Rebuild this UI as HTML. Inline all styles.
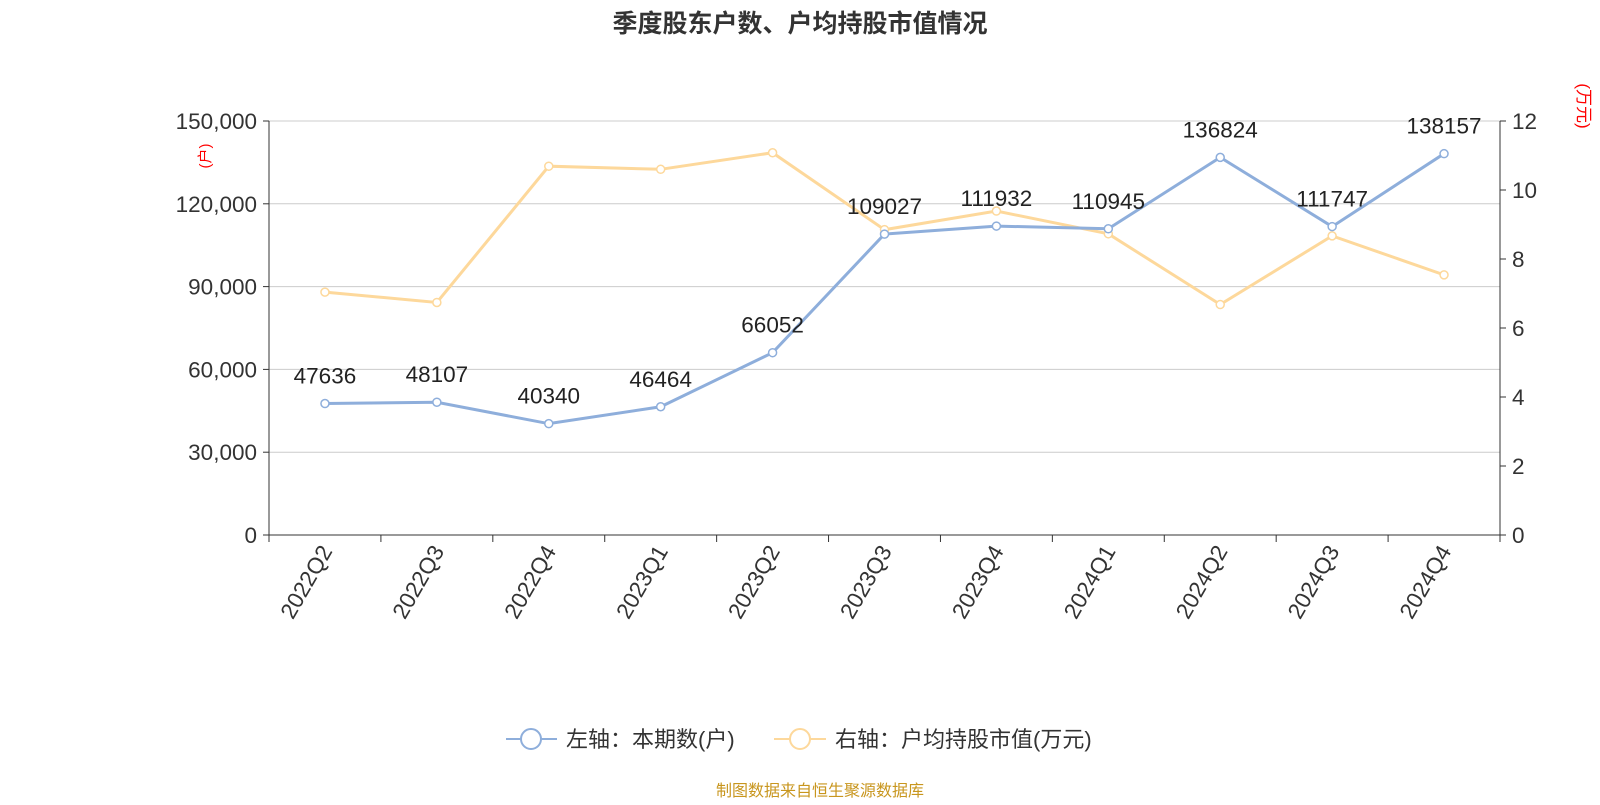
<!DOCTYPE html>
<html><head><meta charset="utf-8"><style>
body{margin:0;background:#fff;}
svg text{font-family:"Liberation Sans","Noto Sans CJK SC",sans-serif;}
</style></head><body>
<svg id="chart" width="1600" height="800" xmlns="http://www.w3.org/2000/svg">
<text x="800" y="32" text-anchor="middle" font-size="25" font-weight="bold" fill="#333">季度股东户数、户均持股市值情况</text>
<g id="grid"></g><g id="axes"></g><g id="series"></g>
<text transform="translate(210,156) rotate(-90)" text-anchor="middle" font-size="15" fill="red">(户)</text>
<text transform="translate(1578,106) rotate(90)" text-anchor="middle" font-size="17" fill="red">(万元)</text>
<g>
<line x1="506" y1="739" x2="557" y2="739" stroke="#8eaedb" stroke-width="2"/><circle cx="531" cy="739" r="10" fill="#fff" stroke="#8eaedb" stroke-width="2"/>
<text x="566" y="747" font-size="22" fill="#333">左轴：本期数(户)</text></g>
<g>
<line x1="774" y1="739" x2="826" y2="739" stroke="#fdd89b" stroke-width="2"/><circle cx="800" cy="739" r="10" fill="#fff" stroke="#fdd89b" stroke-width="2"/>
<text x="835" y="747" font-size="22" fill="#333">右轴：户均持股市值(万元)</text></g>
<text x="820" y="796" text-anchor="middle" font-size="16" fill="#c8961e">制图数据来自恒生聚源数据库</text>
</svg>
<script>
const categories=["2022Q2","2022Q3","2022Q4","2023Q1","2023Q2","2023Q3","2023Q4","2024Q1","2024Q2","2024Q3","2024Q4"];
const holders=[47636,48107,40340,46464,66052,109027,111932,110945,136824,111747,138157];
const avgValue=[7.04,6.74,10.69,10.60,11.08,8.85,9.39,8.73,6.68,8.67,7.54];
const leftTicks=[0,30000,60000,90000,120000,150000];
const rightTicks=[0,2,4,6,8,10,12];
const X0=269,X1=1500,Y0=535,Y1=121;
const bw=(X1-X0)/categories.length;
const x=i=>X0+bw*(i+0.5);
const yL=v=>Y0-(v/150000)*(Y0-Y1);
const yR=v=>Y0-(v/12)*(Y0-Y1);
const NS="http://www.w3.org/2000/svg";
function mk(p,t,a){const e=document.createElementNS(NS,t);for(const k in a)e.setAttribute(k,a[k]);p.appendChild(e);return e;}
const grid=document.getElementById('grid'),axes=document.getElementById('axes'),ser=document.getElementById('series');
leftTicks.forEach(v=>{
 if(v>0){const g=mk(grid,'line',{x1:X0,x2:X1,y1:yL(v),y2:yL(v),stroke:'#ccc','stroke-width':1});
 
 }
 mk(axes,'line',{x1:X0-6,x2:X0,y1:yL(v),y2:yL(v),stroke:'#333'});
 const t=mk(axes,'text',{x:X0-12,y:yL(v)+8,'text-anchor':'end','font-size':22.5,fill:'#333'});
 t.textContent=v.toLocaleString('en-US');
 
 
});
rightTicks.forEach(v=>{
 mk(axes,'line',{x1:X1,x2:X1+6,y1:yR(v),y2:yR(v),stroke:'#333'});
 const t=mk(axes,'text',{x:X1+12,y:yR(v)+8,'font-size':22.5,fill:'#333'});
 t.textContent=v;
 
 
});
mk(axes,'line',{x1:X0,x2:X0,y1:Y1,y2:Y0,stroke:'#333'});
mk(axes,'line',{x1:X1,x2:X1,y1:Y1,y2:Y0,stroke:'#333'});
mk(axes,'line',{x1:X0,x2:X1,y1:Y0,y2:Y0,stroke:'#333'});
for(let i=0;i<=categories.length;i++)mk(axes,'line',{x1:X0+bw*i,x2:X0+bw*i,y1:Y0,y2:Y0+7,stroke:'#333'});
categories.forEach((c,i)=>{
 const t=mk(axes,'text',{transform:`translate(${x(i)+8},${Y0+16}) rotate(-60)`,'text-anchor':'end','font-size':22.5,fill:'#333'});
 t.textContent=c;
 
 
});
function line(vals,yf,color,name){
 const p=mk(ser,'polyline',{points:vals.map((v,i)=>x(i)+','+yf(v)).join(' '),fill:'none',stroke:color,'stroke-width':3});
 
 
 vals.forEach((v,i)=>{const c=mk(ser,'circle',{cx:x(i),cy:yf(v),r:4,fill:'#fff',stroke:color,'stroke-width':1.5});
 
 });
}
line(avgValue,yR,'#fdd89b','avg-value');
line(holders,yL,'#8eaedb','holders');
holders.forEach((v,i)=>{
 const t=mk(ser,'text',{x:x(i),y:yL(v)-20,'text-anchor':'middle','font-size':22.5,fill:'#222'});
 t.textContent=v;
 
 
});
</script>
</body></html>
